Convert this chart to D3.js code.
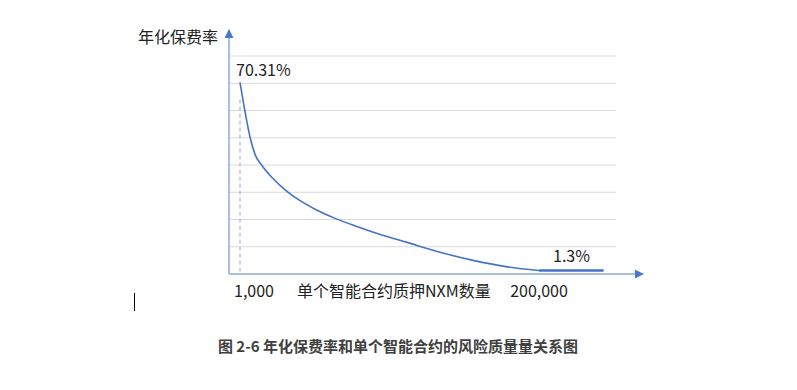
<!DOCTYPE html>
<html>
<head>
<meta charset="utf-8">
<script src="https://cdn.jsdelivr.net/npm/d3@7"></script>
<style>
  body { margin: 0; background: #fff; }
  svg { display: block; font-family: "Noto Sans CJK SC", "Noto Sans", sans-serif; }
</style>
</head>
<body>
<svg id="chart" width="797" height="390"></svg>
<script>
// stake (NXM) vs annual premium rate (%)
const stakes = [1000, 4300, 7700, 11000, 15600, 22300, 31000, 41000, 51600, 63600, 76900, 92800, 112100, 134100, 156100, 178000, 200000];
const rates = [70.31, 59.7, 50.2, 43.9, 39.8, 35.4, 30.9, 26.9, 23.6, 20.6, 17.8, 14.8, 11.6, 8.0, 5.0, 2.7, 1.3];
const floorStakes = [200000, 243000];
const floorRate = 1.3;
const gridValues = [10, 20, 30, 40, 50, 60, 70, 80];
const xLabels = ["1,000", "200,000"];

const svg = d3.select("#chart");

const x = d3.scaleLinear().domain([1000, 200000]).range([240, 539]);
const y = d3.scaleLinear().domain([0, 80]).range([274, 56]);

const axisX0 = 229, axisRight = 643, axisTop = 30, gridRight = 616;
const axisColor = "#8eaadb";

// gridlines
svg.append("g")
  .selectAll("line")
  .data(gridValues)
  .enter().append("line")
    .attr("x1", axisX0)
    .attr("x2", gridRight)
    .attr("y1", d => y(d))
    .attr("y2", d => y(d))
    .attr("stroke", "#d9d9d9")
    .attr("stroke-width", 1);

// axes with arrows
svg.append("defs").append("marker")
  .attr("id", "arrow")
  .attr("viewBox", "0 0 10 10")
  .attr("refX", 9).attr("refY", 5)
  .attr("markerWidth", 9).attr("markerHeight", 9)
  .attr("markerUnits", "userSpaceOnUse")
  .attr("orient", "auto")
  .append("path")
    .attr("d", "M0,0 L10,5 L0,10 Z")
    .attr("fill", "#4a78c8");

svg.append("line")
  .attr("x1", axisX0).attr("y1", y(0))
  .attr("x2", axisX0).attr("y2", axisTop)
  .attr("stroke", axisColor).attr("stroke-width", 1.5)
  .attr("marker-end", "url(#arrow)");

svg.append("line")
  .attr("x1", axisX0).attr("y1", y(0))
  .attr("x2", axisRight).attr("y2", y(0))
  .attr("stroke", axisColor).attr("stroke-width", 1.5)
  .attr("marker-end", "url(#arrow)");

// dashed guide at 1,000
svg.append("line")
  .attr("x1", x(stakes[0])).attr("x2", x(stakes[0]))
  .attr("y1", y(64)).attr("y2", y(0))
  .attr("stroke", axisColor)
  .attr("stroke-width", 1)
  .attr("stroke-dasharray", "4,3");

// curve
const pts = stakes.map((s, i) => [s, rates[i]]);
const line = d3.line()
  .x(d => x(d[0]))
  .y(d => y(d[1]))
  .curve(d3.curveMonotoneX);

svg.append("path")
  .datum(pts)
  .attr("d", line)
  .attr("fill", "none")
  .attr("stroke", "#4472c4")
  .attr("stroke-width", 1.6);

// flat floor segment
svg.append("line")
  .attr("x1", x(floorStakes[0])).attr("x2", x(floorStakes[1]))
  .attr("y1", y(floorRate)).attr("y2", y(floorRate))
  .attr("stroke", "#4472c4")
  .attr("stroke-width", 2.5);

// texts
const txt = (s, tx, ty, opts = {}) => svg.append("text")
  .attr("x", tx).attr("y", ty)
  .attr("font-size", opts.size || 16)
  .attr("font-weight", opts.weight || "normal")
  .attr("fill", opts.fill || "#222")
  .attr("text-anchor", opts.anchor || "start")
  .text(s);

txt("年化保费率", 138, 43);
txt(rates[0].toFixed(2) + "%", 236, 76);
txt(floorRate + "%", 553, 262);
txt(xLabels[0], 234, 297);
txt("单个智能合约质押NXM数量", 297, 297);
txt(xLabels[1], x(200000), 297, { anchor: "middle" });

txt("图 2-6  年化保费率和单个智能合约的风险质量量关系图", 398, 352, { size: 15, weight: "bold", fill: "#404040", anchor: "middle" });

// cursor mark
svg.append("line")
  .attr("x1", 134.5).attr("x2", 134.5)
  .attr("y1", 293).attr("y2", 311)
  .attr("stroke", "#000").attr("stroke-width", 1);
</script>
</body>
</html>
